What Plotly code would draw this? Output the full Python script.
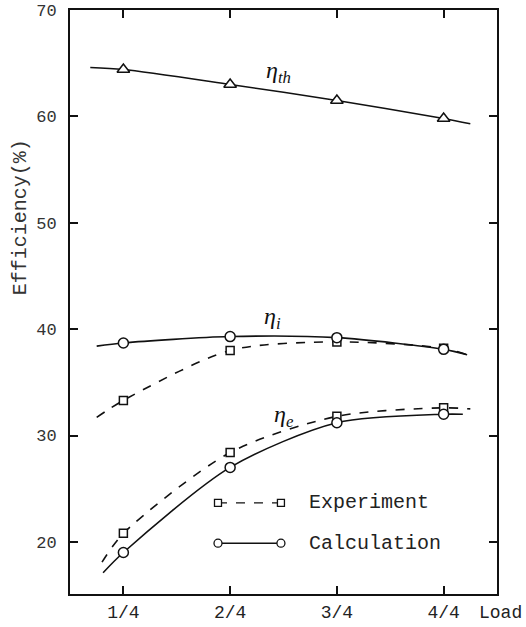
import plotly.graph_objects as go

# Engine load (quarters of full load) and tick labels
loads = [1, 2, 3, 4]
load_labels = ["1/4", "2/4", "3/4", "4/4"]

# Efficiencies (%) at each load
eta_th = [64.4, 63.0, 61.5, 59.8]
eta_i_calc = [38.7, 39.3, 39.2, 38.1]
eta_i_exp = [33.3, 38.0, 38.8, 38.2]
eta_e_calc = [19.0, 27.0, 31.2, 32.0]
eta_e_exp = [20.8, 28.4, 31.8, 32.6]

# Where each faired curve begins and ends beyond the measured loads: (load, %)
eta_th_ends = [(0.69, 64.6), (4.25, 59.3)]
eta_i_calc_ends = [(0.75, 38.4), (4.22, 37.6)]
eta_i_exp_ends = [(0.75, 31.7), (4.22, 37.6)]
eta_e_calc_ends = [(0.81, 17.1), (4.18, 32.0)]
eta_e_exp_ends = [(0.80, 18.1), (4.25, 32.5)]

MONO = "Liberation Mono, Courier New, monospace"
INK = "#111111"


def curve(values, ends, dash):
    (x0, y0), (x1, y1) = ends
    return go.Scatter(
        x=[x0] + loads + [x1], y=[y0] + values + [y1],
        mode="lines",
        line=dict(color=INK, width=1.6, dash=dash, shape="spline", smoothing=0.8),
        hoverinfo="skip", showlegend=False,
    )


def points(values, symbol, size):
    return go.Scatter(
        x=loads, y=values, mode="markers",
        marker=dict(symbol=symbol, size=size, color="white",
                    line=dict(color=INK, width=1.5)),
        showlegend=False,
    )


fig = go.Figure()
# experiment (dashed, squares) underneath the calculation curves
fig.add_trace(curve(eta_i_exp, eta_i_exp_ends, "dash"))
fig.add_trace(curve(eta_e_exp, eta_e_exp_ends, "dash"))
fig.add_trace(points(eta_i_exp, "square", 8))
fig.add_trace(points(eta_e_exp, "square", 8))
# calculation (solid)
fig.add_trace(curve(eta_th, eta_th_ends, "solid"))
fig.add_trace(curve(eta_i_calc, eta_i_calc_ends, "solid"))
fig.add_trace(curve(eta_e_calc, eta_e_calc_ends, "solid"))
fig.add_trace(points(eta_th, "triangle-up", 11))
fig.add_trace(points(eta_i_calc, "circle", 10))
fig.add_trace(points(eta_e_calc, "circle", 10))

axis_common = dict(
    showline=True, linecolor=INK, linewidth=2, mirror="ticks",
    ticks="inside", ticklen=8, tickwidth=1.5, tickcolor=INK,
    showgrid=False, zeroline=False, automargin=False,
)
fig.update_xaxes(
    range=[0.5, 4.5], tickvals=loads, ticktext=load_labels,
    tickfont=dict(family=MONO, size=18, color="#222222"),
    ticklabelstandoff=0, **axis_common,
)
fig.update_yaxes(
    range=[15.1, 70], tickvals=[20, 30, 40, 50, 60, 70],
    tickfont=dict(family=MONO, size=17, color="#333333"),
    ticklabelstandoff=8, **axis_common,
)

annotations = [
    dict(text="Load", xref="paper", yref="paper", x=1.063, y=-0.0325,
         xanchor="right", yanchor="middle", showarrow=False,
         font=dict(family=MONO, size=18, color="#222222")),
    dict(text="Efficiency(%)", xref="paper", yref="paper", x=-0.117, y=0.645,
         textangle=-90, xanchor="center", yanchor="middle", showarrow=False,
         font=dict(family=MONO, size=20, color="#333333")),
    # curve labels
    dict(text="η<sub>th</sub>", x=2.45, y=64.2, showarrow=False,
         font=dict(family="Liberation Serif", size=24, color=INK, style="italic")),
    dict(text="η<sub>i</sub>", x=2.4, y=41.0, showarrow=False,
         font=dict(family="Liberation Serif", size=24, color=INK, style="italic")),
    dict(text="η<sub>e</sub>", x=2.5, y=31.8, showarrow=False,
         font=dict(family="Liberation Serif", size=24, color=INK, style="italic")),
    # key text
    dict(text="Experiment", xref="paper", yref="paper", x=0.555, y=0.156,
         xanchor="left", yanchor="middle", showarrow=False,
         font=dict(family=MONO, size=20, color="#222222")),
    dict(text="Calculation", xref="paper", yref="paper", x=0.555, y=0.087,
         xanchor="left", yanchor="middle", showarrow=False,
         font=dict(family=MONO, size=20, color="#222222")),
]

# key samples: a short line with a marker at each end
key_rows = [(0.156, "dash", "rect", 7), (0.087, "solid", "circle", 8)]
key_x = (0.3466, 0.494)
shapes = []
for ky, dash, sym, s in key_rows:
    shapes.append(dict(type="line", xref="paper", yref="paper",
                       x0=key_x[0], x1=key_x[1], y0=ky, y1=ky,
                       line=dict(color=INK, width=1.4, dash=dash)))
    for kx in key_x:
        shapes.append(dict(type=sym, xref="paper", yref="paper",
                           xsizemode="pixel", ysizemode="pixel",
                           xanchor=kx, yanchor=ky,
                           x0=-s / 2, x1=s / 2, y0=-s / 2, y1=s / 2,
                           fillcolor="white", line=dict(color=INK, width=1.3)))

fig.update_layout(
    width=526, height=627,
    margin=dict(l=70, r=29, t=10, b=33),
    paper_bgcolor="white", plot_bgcolor="white",
    annotations=annotations, shapes=shapes, showlegend=False,
)

fig.write_html("out.html")
